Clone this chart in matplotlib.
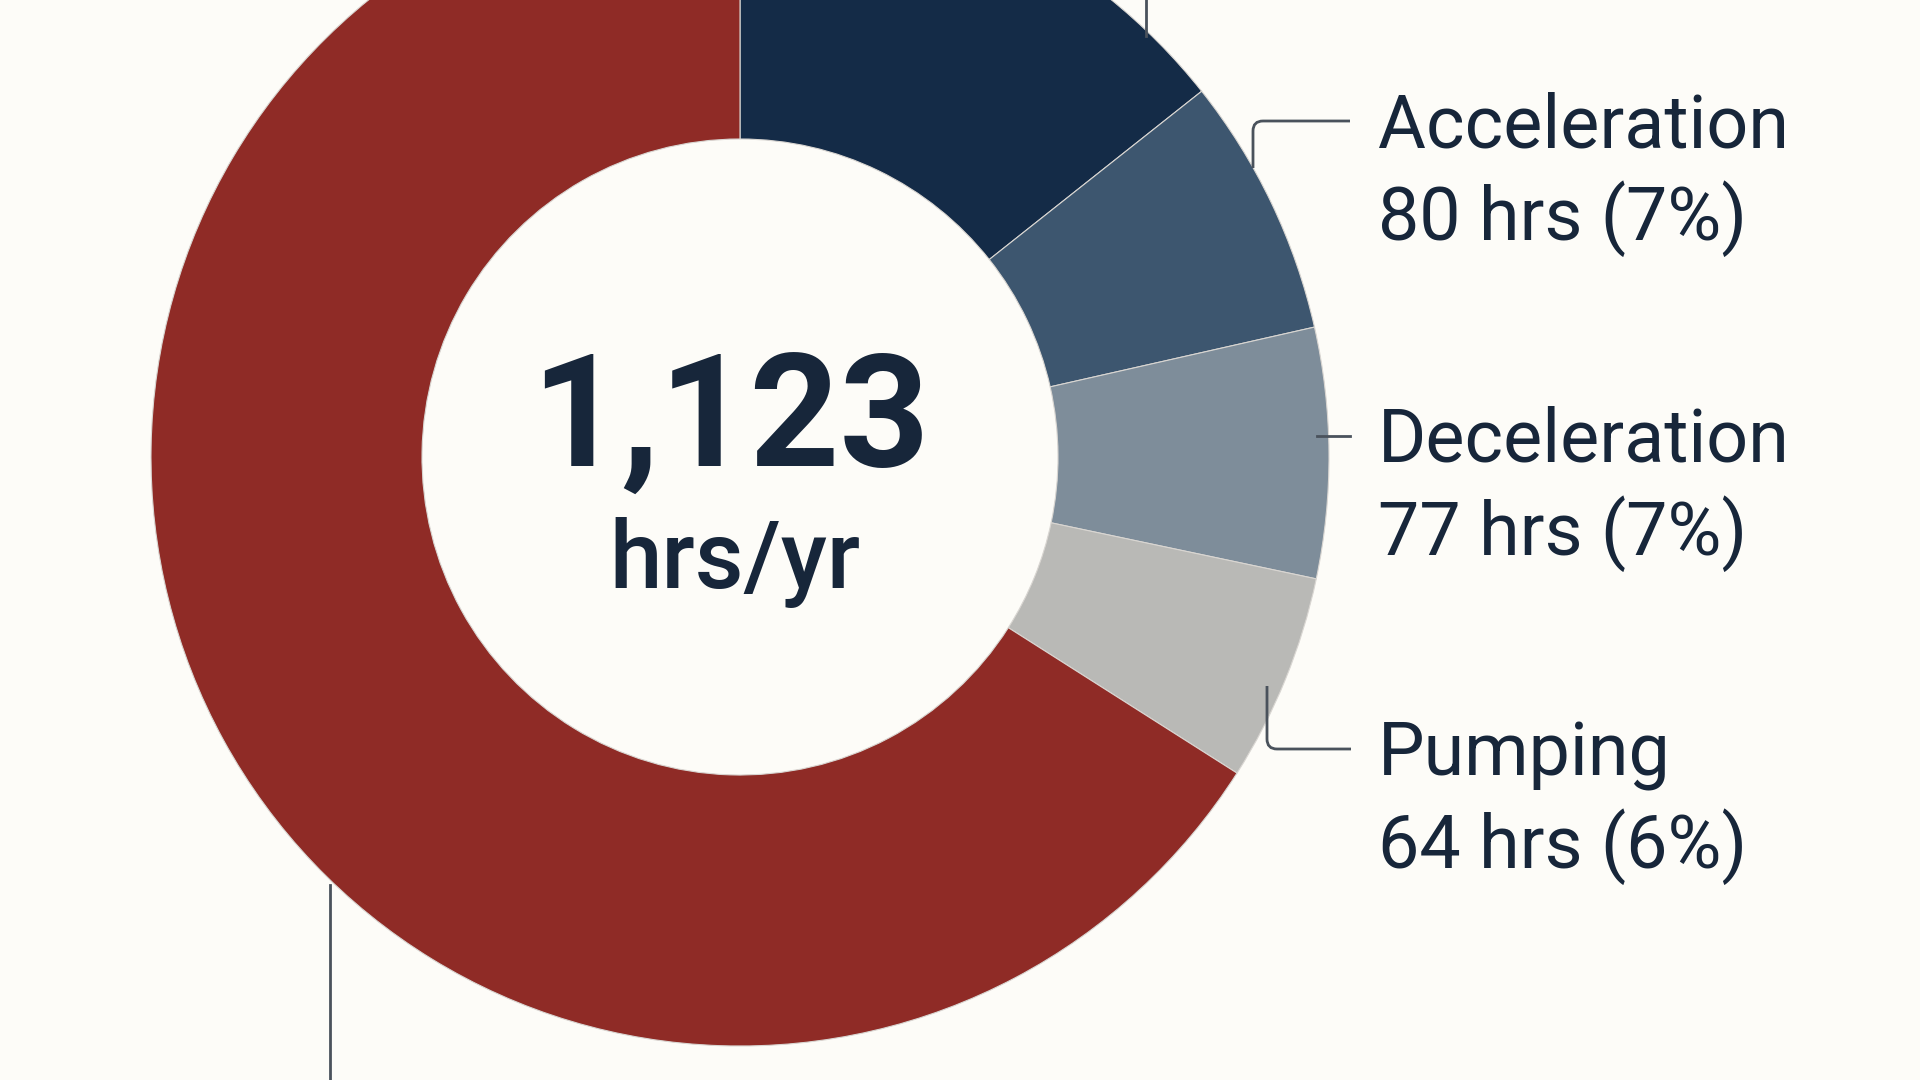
"""Annual hours donut: total in the centre, three labelled slices on the right."""

import matplotlib
matplotlib.use("Agg")
import matplotlib.pyplot as plt
from matplotlib.path import Path
from matplotlib.patches import PathPatch

# Slices clockwise from 12 o'clock. The first and last labels fall outside the crop.
categories = ["Cruising", "Acceleration", "Deceleration", "Pumping", "Idling"]
hours = [161, 80, 77, 64, 741]
colors = ["#142b47", "#3d566f", "#7e8d9a", "#b9b9b6", "#8f2b26"]
shown = ["Acceleration", "Deceleration", "Pumping"]

BG = "#fdfcf8"
INK = "#17263a"
LINE = "#4a525c"

W, H = 1920, 1080
CX, CY = 740, 457           # donut centre, pixels from top-left
R_OUT, R_IN = 589, 318

# leader y (pixels from top) for each shown label
label_y = {"Acceleration": 121, "Deceleration": 436, "Pumping": 749}
TEXT_X = 1378


def Y(y):
    return H - y


fig = plt.figure(figsize=(19.2, 10.8), dpi=100, facecolor=BG)
ax = fig.add_axes([0, 0, 1, 1])
ax.set_facecolor(BG)

ax.pie(hours, colors=colors, startangle=90, counterclock=False,
       radius=R_OUT, center=(CX, Y(CY)),
       wedgeprops=dict(width=R_OUT - R_IN, edgecolor="#d9d6d2", linewidth=0.8))

ax.set_xlim(0, W)
ax.set_ylim(0, H)
ax.set_aspect("equal")
ax.axis("off")

total = sum(hours)
ax.text(730, Y(467), f"{total:,}", ha="center", va="baseline",
        fontsize=113, fontweight="bold", color=INK, family="Roboto")
ax.text(735, Y(588), "hrs/yr", ha="center", va="baseline",
        fontsize=68, fontweight="medium", color=INK, family="Roboto")


def elbow(x0, y0, y1, x1, r=10):
    """vertical from (x0,y0) to y1, rounded corner, horizontal to x1"""
    s = 1 if y1 > y0 else -1
    verts = [(x0, Y(y0)), (x0, Y(y1 - s * r)), (x0, Y(y1)), (x0 + r, Y(y1)),
             (x1, Y(y1))]
    codes = [Path.MOVETO, Path.LINETO, Path.CURVE3, Path.CURVE3, Path.LINETO]
    ax.add_patch(PathPatch(Path(verts, codes), fill=False, edgecolor=LINE,
                           lw=2.0, capstyle="butt"))


elbow(1253, 168, label_y["Acceleration"], 1350)
ax.plot([1317, 1350], [Y(436), Y(436)], color=LINE, lw=2.0)
elbow(1267, 686, label_y["Pumping"], 1351)
# leaders of the two labels that sit outside the frame
ax.plot([1146, 1146], [Y(36), Y(-5)], color=LINE, lw=2.0)
ax.plot([330, 330], [Y(885), Y(1090)], color=LINE, lw=2.0)

for name in shown:
    v = hours[categories.index(name)]
    ly = label_y[name]
    ax.text(TEXT_X, Y(ly + 26), name, ha="left", va="baseline",
            fontsize=53, color=INK, family="Roboto")
    ax.text(TEXT_X, Y(ly + 119), f"{v} hrs ({round(v / total * 100)}%)",
            ha="left", va="baseline", fontsize=53, color=INK, family="Roboto")

fig.savefig("out.png", dpi=100, facecolor=BG)
